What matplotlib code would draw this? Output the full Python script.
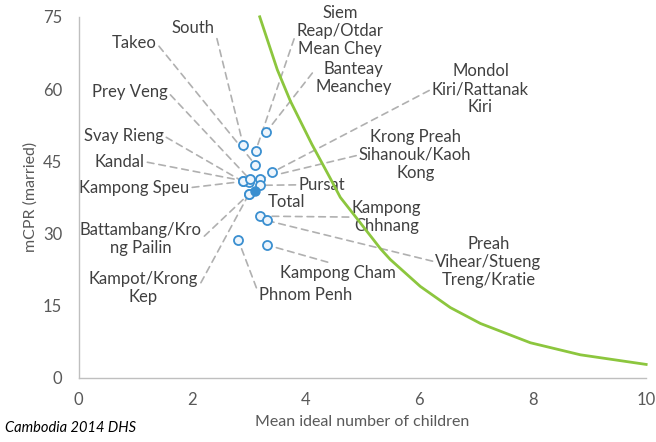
import matplotlib
matplotlib.use('Agg')
import matplotlib.pyplot as plt

plt.rcParams['font.family'] = ['Lato', 'DejaVu Sans']

# regions: ideal number of children vs mCPR (married)
regions = ['Siem\nReap/Otdar\nMean Chey', 'Banteay\nMeanchey', 'Mondol\nKiri/Rattanak\nKiri',
           'Krong Preah\nSihanouk/Kaoh\nKong', 'Pursat', 'Kampong\nChhnang',
           'Preah\nVihear/Stueng\nTreng/Kratie', 'Kampong Cham', 'Phnom Penh',
           'Kampot/Krong\nKep', 'Battambang/Kro\nng Pailin', 'Kampong Speu',
           'Kandal', 'Svay Rieng', 'Prey Veng', 'Takeo', 'South']
ideal = [3.12, 3.30, 3.41, 3.20, 3.20, 3.19, 3.31, 3.32, 2.81,
         3.00, 3.00, 2.89, 3.00, 2.89, 3.01, 3.11, 2.90]
mcpr = [47.2, 51.0, 42.7, 41.4, 40.0, 33.6, 32.7, 27.6, 28.7,
        38.2, 38.2, 40.8, 40.7, 40.8, 41.3, 44.3, 48.3]

total_ideal = 3.10
total_mcpr = 38.9

# label placement (data coords), alignment and where the leader leaves the text
label_x = [4.61, 4.84, 7.08, 5.93, 3.87, 5.42, 7.22, 4.56, 3.18, 1.14, 1.09, 0.98, 0.72, 0.79, 0.90, 0.97, 2.01]
label_y = [72.1, 62.3, 60.0, 46.3, 40.1, 33.4, 24.1, 21.8, 17.2, 18.7, 28.9, 39.5, 44.9, 50.3, 59.4, 69.6, 72.7]
label_ha = ['center', 'center', 'center', 'center', 'left', 'center', 'center', 'center', 'left',
            'center', 'center', 'center', 'center', 'center', 'center', 'center', 'center']
label_rel = [(0, 0.5), (0, 0.75), (0, 0.5), (0, 0.5), (0, 0.5), (0, 0.5), (0, 0.5), (0.5, 1), (0, 0.5),
             (1, 0.5), (1, 0.5), (1, 0.5), (1, 0.5), (1, 0.5), (1, 0.5), (1, 0.5), (1, 0.5)]

# green curve
curve_x = [3.19, 3.50, 3.73, 4.11, 4.44, 4.61, 4.91, 5.32, 5.49, 6.02, 6.55, 7.08, 7.96, 8.84, 10.0]
curve_y = [75.0, 64.0, 57.5, 48.5, 41.3, 37.5, 33.0, 26.8, 24.6, 19.0, 14.6, 11.3, 7.3, 4.8, 2.8]

grey = '#595959'
txt = '#404040'
blue = '#3a8fd0'

fig = plt.figure(figsize=(6.56, 4.42), dpi=100)
ax = fig.add_axes([0.120, 0.145, 0.865, 0.817])

ax.plot(curve_x, curve_y, color='#8cc63e', lw=2, zorder=2, clip_on=False)

for name, x, y, lx, ly, ha, rel in zip(regions, ideal, mcpr, label_x, label_y, label_ha, label_rel):
    ax.annotate(name, xy=(x, y), xytext=(lx, ly), ha=ha, va='center', multialignment='center',
                fontsize=12, color=txt, linespacing=1.15,
                arrowprops=dict(arrowstyle='-', color='#b0b0b0', linestyle=(0, (4, 3)),
                                lw=1.2, relpos=rel, shrinkA=0, shrinkB=3),
                zorder=1)

ax.plot(ideal, mcpr, 'o', ms=6.5, mfc='#eef5fc', mec=blue, mew=1.3, zorder=3)
ax.plot([total_ideal], [total_mcpr], 'o', ms=6.5, color=blue, zorder=4)
ax.text(3.66, 36.6, 'Total', fontsize=12, color=txt, ha='center', va='center')

ax.set_xlim(0, 10)
ax.set_ylim(0, 75)
ax.set_xticks(range(0, 11, 2))
ax.set_yticks(range(0, 76, 15))
ax.tick_params(length=0, labelsize=12, labelcolor=grey)
ax.tick_params(axis='y', pad=12)
ax.tick_params(axis='x', pad=10)
for s in ['top', 'right']:
    ax.spines[s].set_visible(False)
for s in ['left', 'bottom']:
    ax.spines[s].set_color('#bfbfbf')
    ax.spines[s].set_linewidth(1)

ax.set_xlabel('Mean ideal number of children', fontsize=11.5, color=grey, labelpad=5)
ax.set_ylabel('mCPR (married)', fontsize=11.5, color=grey, labelpad=4)

fig.text(0.008, 0.022, 'Cambodia 2014 DHS', fontsize=10.5, style='italic', color='black')

fig.savefig('out.png', dpi=100)
